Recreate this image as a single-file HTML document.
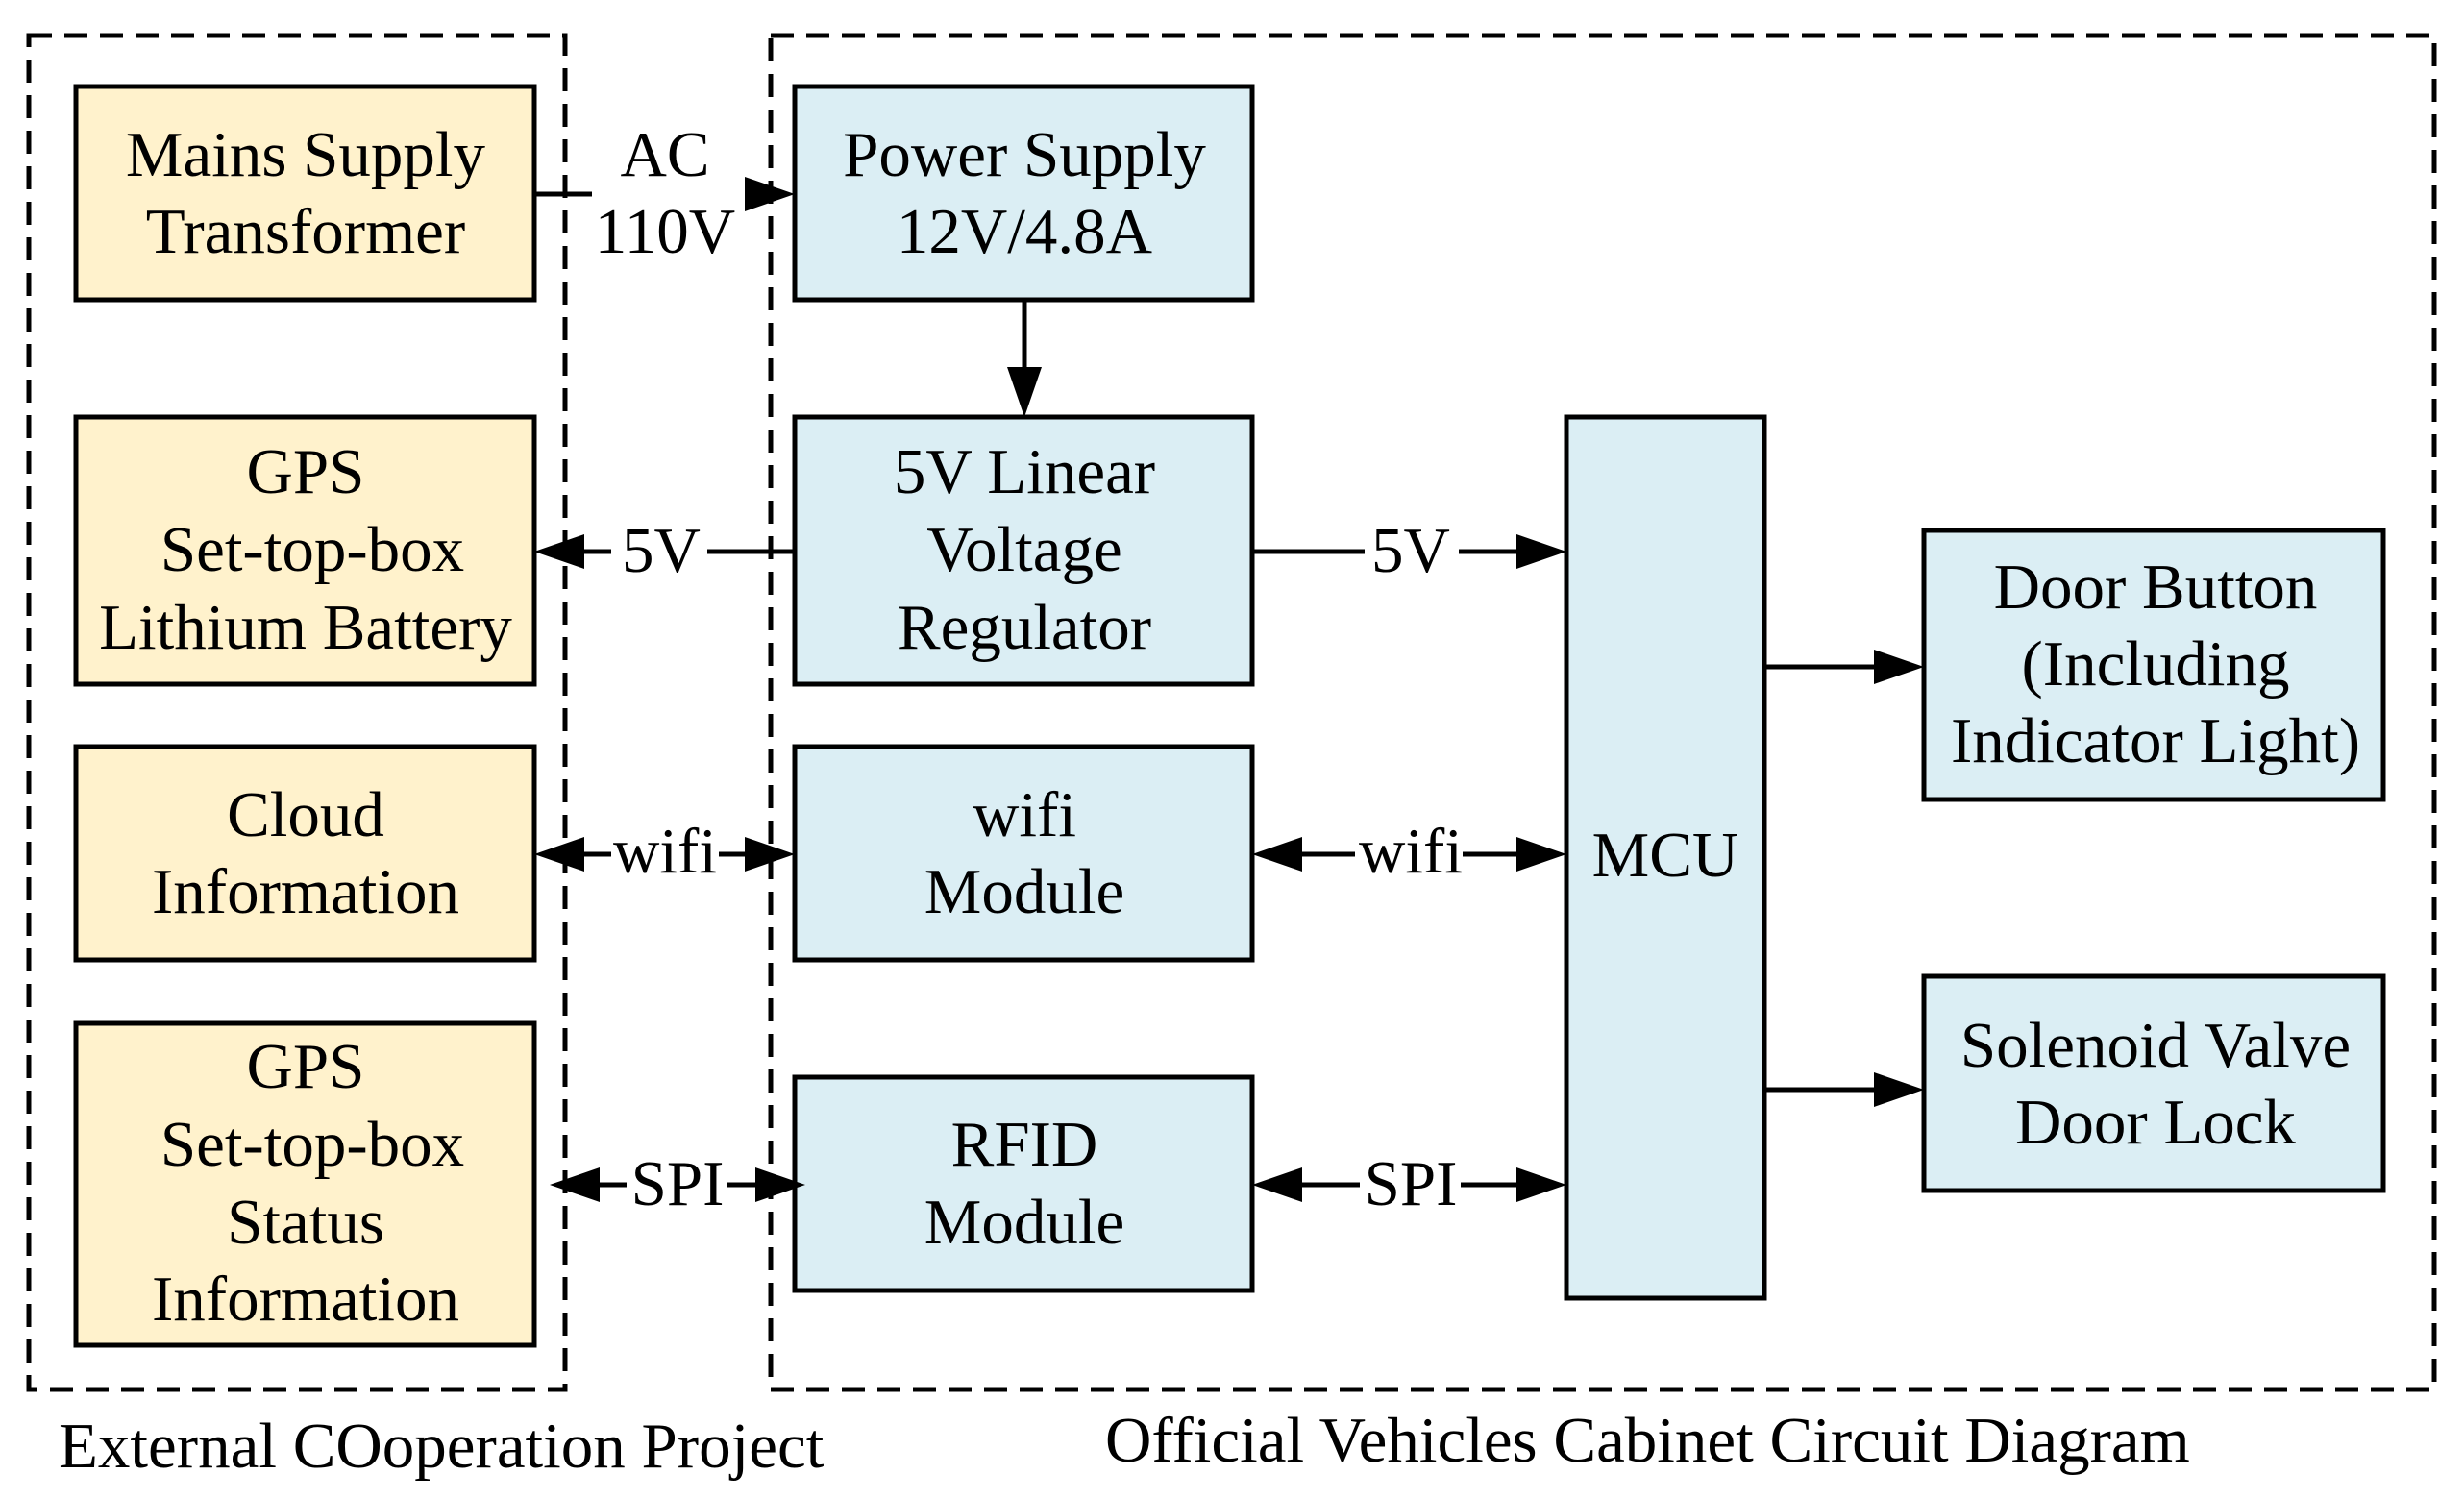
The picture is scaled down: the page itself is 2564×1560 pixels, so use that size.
<!DOCTYPE html>
<html><head><meta charset="utf-8"><style>
html,body{margin:0;padding:0;background:#fff;}
svg{display:block;}
text{font-family:"Liberation Serif",serif;font-size:67px;fill:#000;}
</style></head><body>
<svg width="2564" height="1560" viewBox="0 0 2564 1560" xmlns="http://www.w3.org/2000/svg">
<g fill="none" stroke="#000" stroke-width="5" stroke-dasharray="24,13">
<rect x="30" y="37" width="558" height="1409"/>
<rect x="802" y="37" width="1731" height="1409"/>
</g>
<g stroke="#000" stroke-width="5">
<rect x="79" y="90" width="477" height="222" fill="#fff2cc"/>
<rect x="79" y="434" width="477" height="278" fill="#fff2cc"/>
<rect x="79" y="777" width="477" height="222" fill="#fff2cc"/>
<rect x="79" y="1065" width="477" height="335" fill="#fff2cc"/>
<rect x="827" y="90" width="476" height="222" fill="#dbeef4"/>
<rect x="827" y="434" width="476" height="278" fill="#dbeef4"/>
<rect x="827" y="777" width="476" height="222" fill="#dbeef4"/>
<rect x="827" y="1121" width="476" height="222" fill="#dbeef4"/>
<rect x="1630" y="434" width="206" height="917" fill="#dbeef4"/>
<rect x="2002" y="552" width="478" height="280" fill="#dbeef4"/>
<rect x="2002" y="1016" width="478" height="223" fill="#dbeef4"/>
</g>
<g stroke="#000" stroke-width="5">
<line x1="556" y1="202" x2="616" y2="202"/>
<line x1="780" y1="202" x2="800" y2="202"/>
<line x1="1066" y1="312" x2="1066" y2="390"/>
<line x1="606" y1="574" x2="636" y2="574"/>
<line x1="736" y1="574" x2="827" y2="574"/>
<line x1="1303" y1="574" x2="1420" y2="574"/>
<line x1="1518" y1="574" x2="1590" y2="574"/>
<line x1="596" y1="889" x2="636" y2="889"/>
<line x1="748" y1="889" x2="790" y2="889"/>
<line x1="1343" y1="889" x2="1410" y2="889"/>
<line x1="1522" y1="889" x2="1590" y2="889"/>
<line x1="612" y1="1233" x2="652" y2="1233"/>
<line x1="756" y1="1233" x2="798" y2="1233"/>
<line x1="1343" y1="1233" x2="1415" y2="1233"/>
<line x1="1520" y1="1233" x2="1590" y2="1233"/>
<line x1="1836" y1="694" x2="1960" y2="694"/>
<line x1="1836" y1="1134" x2="1960" y2="1134"/>
</g>
<g fill="#000">
<polygon points="827,202 775,184 775,220"/>
<polygon points="1066,434 1048,382 1084,382"/>
<polygon points="556,574 608,556 608,592"/>
<polygon points="1630,574 1578,556 1578,592"/>
<polygon points="556,889 608,871 608,907"/>
<polygon points="827,889 775,871 775,907"/>
<polygon points="1303,889 1355,871 1355,907"/>
<polygon points="1630,889 1578,871 1578,907"/>
<polygon points="572,1233 624,1215 624,1251"/>
<polygon points="838,1233 786,1215 786,1251"/>
<polygon points="1303,1233 1355,1215 1355,1251"/>
<polygon points="1630,1233 1578,1215 1578,1251"/>
<polygon points="2002,694 1950,676 1950,712"/>
<polygon points="2002,1134 1950,1116 1950,1152"/>
</g>
<g text-anchor="middle">
<text x="318" y="183">Mains Supply</text>
<text x="318" y="263">Transformer</text>
<text x="318" y="513">GPS</text>
<text x="325" y="594">Set-top-box</text>
<text x="318" y="675">Lithium Battery</text>
<text x="318" y="870">Cloud</text>
<text x="318" y="950">Information</text>
<text x="318" y="1132">GPS</text>
<text x="325" y="1213">Set-top-box</text>
<text x="318" y="1294">Status</text>
<text x="318" y="1374">Information</text>
<text x="1066" y="183">Power Supply</text>
<text x="1066" y="263">12V/4.8A</text>
<text x="1066" y="513">5V Linear</text>
<text x="1066" y="594">Voltage</text>
<text x="1066" y="675">Regulator</text>
<text x="1066" y="870">wifi</text>
<text x="1066" y="950">Module</text>
<text x="1066" y="1213">RFID</text>
<text x="1066" y="1294">Module</text>
<text x="1733" y="912">MCU</text>
<text x="2243" y="633">Door Button</text>
<text x="2243" y="713">(Including</text>
<text x="2243" y="793">Indicator Light)</text>
<text x="2243" y="1110">Solenoid Valve</text>
<text x="2243" y="1190">Door Lock</text>
<text x="692" y="183">AC</text>
<text x="692" y="263">110V</text>
<text x="688" y="595">5V</text>
<text x="1468" y="595">5V</text>
<text x="692" y="908">wifi</text>
<text x="1468" y="908">wifi</text>
<text x="705" y="1254">SPI</text>
<text x="1468" y="1254">SPI</text>
</g>
<text x="61" y="1527" style="font-size:67px">External COoperation Project</text>
<text x="1150" y="1521" style="font-size:67px">Official Vehicles Cabinet Circuit Diagram</text>
</svg>
</body></html>
